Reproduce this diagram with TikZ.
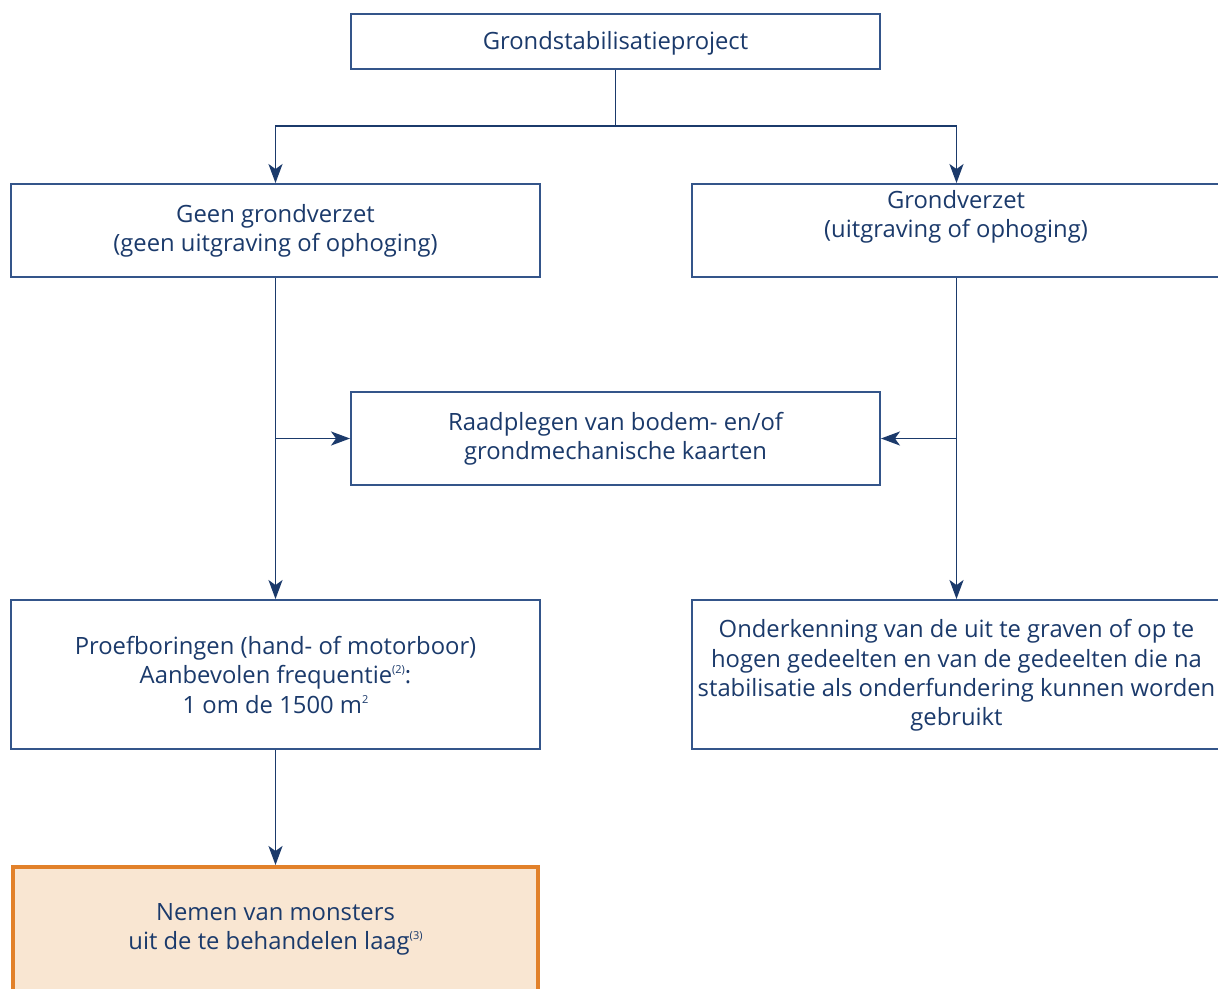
\documentclass[tikz,border=0pt]{standalone}
\usepackage{fontspec}
\setmainfont{Open Sans}
\usetikzlibrary{arrows.meta}
\definecolor{navy}{HTML}{1B3A6B}
\definecolor{boxline}{HTML}{34558A}
\definecolor{orangeline}{HTML}{E2812A}
\definecolor{orangefill}{HTML}{F9E6D2}
\newcommand{\supnote}[1]{\raisebox{0.8ex}{\fontsize{11}{11}\selectfont #1}}
\tikzset{
  box/.style={draw=boxline, line width=1.9pt, minimum width=529pt, inner sep=0pt, text=navy, align=center},
  txt/.style={text=navy, align=center, inner sep=0pt, font=\fontsize{23.8}{29.3}\selectfont},
  arr/.style={draw=navy, line width=1.9pt, -{Stealth[length=19pt,width=14pt,inset=5pt]}},
  ln/.style={draw=navy, line width=1.9pt},
}
\begin{document}
\begin{tikzpicture}[x=1pt,y=-1pt]
\useasboundingbox (0,0) rectangle (1218,988);
\clip (0,0) rectangle (1218,988);
\fill[white] (0,0) rectangle (1218,988);
% boxes
\node[box, minimum height=55pt] (top) at (615.5,41.5) {};
\node[txt] (toptext) at (615.5,43) {Grondstabilisatieproject};
\node[box, minimum height=93pt] (left) at (275.5,230.5) {};
\node[txt] (lefttext) at (275.5,231) {Geen grondverzet\\(geen uitgraving of ophoging)};
\node[box, minimum height=93pt] (right) at (956.5,230.5) {};
\node[txt] (righttext) at (956,216.5) {Grondverzet\\(uitgraving of ophoging)};
\node[box, minimum height=93pt] (mid) at (615.5,438.5) {};
\node[txt] (midtext) at (615.5,438.5) {Raadplegen van bodem- en/of\\grondmechanische kaarten};
\node[box, minimum height=149pt] (left2) at (275.5,674.5) {};
\node[txt] (left2text) at (275.5,675) {Proefboringen (hand- of motorboor)\\Aanbevolen frequentie\supnote{(2)}:\\1 om de 1500 m\supnote{2}};
\node[box, minimum height=149pt] (right2) at (956.5,674.5) {};
\node[txt] (right2text) at (956.5,675.5) {Onderkenning van de uit te graven of op te\\hogen gedeelten en van de gedeelten die na\\stabilisatie als onderfundering kunnen worden\\gebruikt};
\node[draw=orangeline, fill=orangefill, line width=4pt, minimum width=525pt, minimum height=180pt, inner sep=0pt] (orange) at (275.5,957) {};
\node[txt] (orangetext) at (275.5,929.5) {Nemen van monsters\\uit de te behandelen laag\supnote{(3)}};
% connectors
\coordinate (j) at (615.5,126);
\draw[ln] (top.south) -- (j);
\draw[arr] (j) -| (left.north);
\draw[arr] (j) -| (right.north);
\draw[arr] (left.south) -- (left2.north);
\draw[arr] (left.south |- mid.west) -- (mid.west);
\draw[arr] (right.south) -- (right2.north);
\draw[arr] (right.south |- mid.east) -- (mid.east);
\draw[arr] (left2.south) -- (orange.north);
\end{tikzpicture}
\end{document}
